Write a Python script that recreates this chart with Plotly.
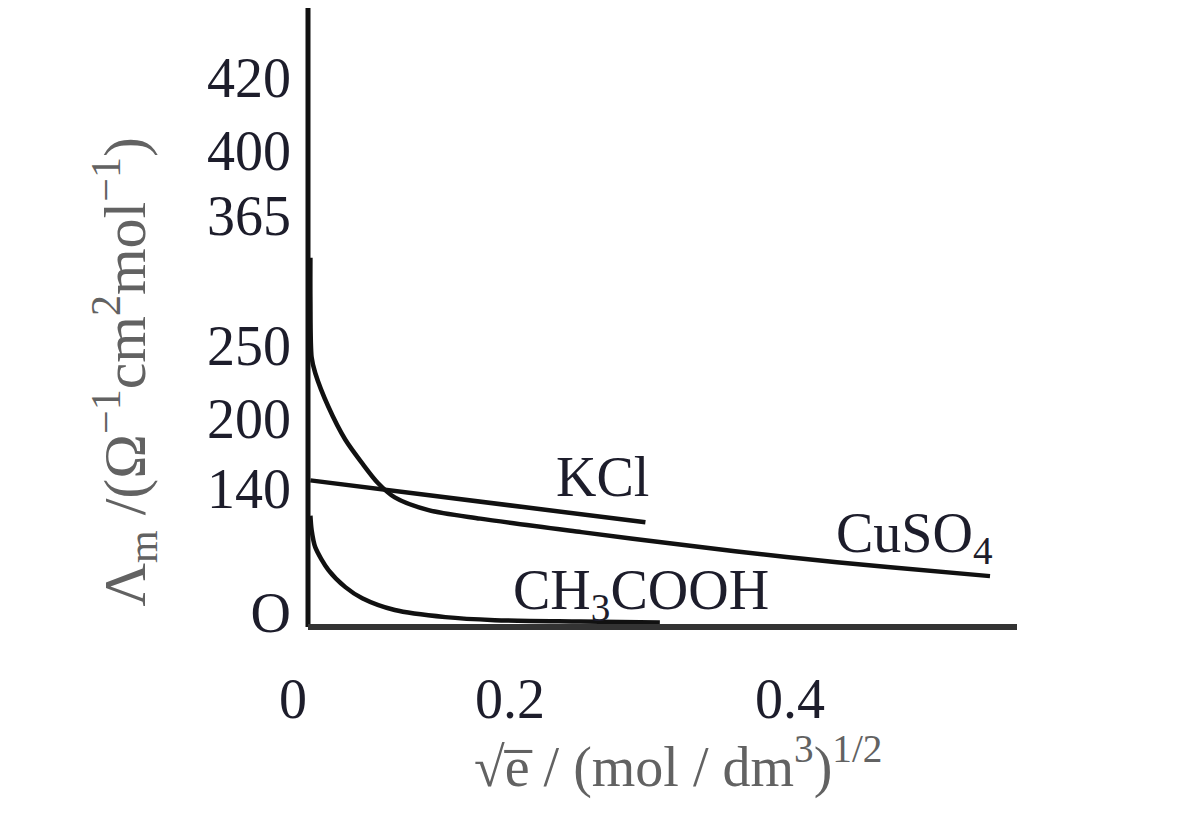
import plotly.graph_objects as go

# conductivity curves (schematic axes)
cuso4_x = [0.002, 0.002, 0.003, 0.006, 0.017, 0.031, 0.045, 0.058, 0.072, 0.100, 0.143, 0.227, 0.312, 0.397, 0.481, 0.566]
cuso4_y = [282, 250, 206, 194, 168, 143, 125, 110, 99, 89.3, 82.8, 72.5, 62.6, 53.5, 45.8, 38.9]

kcl_x = [0.002, 0.280]
kcl_y = [112, 80]

ch3cooh_x = [0.002, 0.003, 0.006, 0.017, 0.031, 0.045, 0.072, 0.114, 0.155, 0.226, 0.292]
ch3cooh_y = [85, 74, 61, 43.5, 30.5, 22, 13, 7.6, 5.3, 4.2, 3.4]

# tick labels of the book figure, and where they sit on its (non uniform) scale
y_tick_text = ["420", "400", "365", "250", "200", "140", "O"]
y_tick_at = [420, 364.3, 314.6, 215.3, 159.6, 106.1, 11.5]
x_tick_text = ["0", "0.2", "0.4"]
x_tick_at = [-0.0124, 0.1676, 0.4]

x_range = [-0.01328, 0.5884]
y_range = [-3, 472.7]

serif = "Liberation Serif"
ink = "#1d1d2b"
grey = "#626262"

fig = go.Figure()

for xs, ys in [(cuso4_x, cuso4_y), (kcl_x, kcl_y), (ch3cooh_x, ch3cooh_y)]:
    fig.add_trace(go.Scatter(x=xs, y=ys, mode="lines",
                             line=dict(color="#111111", width=4.5, shape="spline", smoothing=0.8),
                             showlegend=False, hoverinfo="skip"))

# axes drawn as plain lines from the origin
fig.add_shape(type="line", x0=0, x1=0, y0=0, y1=y_range[1], xref="x", yref="y",
              line=dict(color="#111111", width=5))
fig.add_shape(type="line", x0=0, x1=x_range[1], y0=0, y1=0, xref="x", yref="y",
              line=dict(color="#333333", width=6))

# curve names
fig.add_annotation(x=0.2041, y=114.5, text="KCl", xanchor="left", yanchor="middle", showarrow=False,
                   font=dict(family=serif, size=56, color=ink))
fig.add_annotation(x=0.4365, y=68.7, text="CuSO<sub>4</sub>", xanchor="left", yanchor="middle", showarrow=False,
                   font=dict(family=serif, size=56, color=ink))
fig.add_annotation(x=0.1685, y=25.5, text="CH<sub>3</sub>COOH", xanchor="left", yanchor="middle", showarrow=False,
                   font=dict(family=serif, size=56, color=ink))

# axis titles
fig.add_annotation(x=-0.2303, y=0.415, xref="paper", yref="paper", textangle=-90,
                   text="Λ<sub>m</sub> /(Ω<sup>−1</sup>cm<sup>2</sup>mol<sup>−1</sup>)",
                   xanchor="center", yanchor="middle", showarrow=False,
                   font=dict(family=serif, size=60, color=grey))
fig.add_annotation(x=0.532, y=-0.212, xref="paper", yref="paper",
                   text="√e\u0305 / (mol / dm<sup>3</sup>)<sup>1/2</sup>",
                   xanchor="center", yanchor="middle", showarrow=False,
                   font=dict(family=serif, size=56, color=grey))

fig.update_xaxes(range=x_range, tickvals=x_tick_at, ticktext=x_tick_text,
                 showgrid=False, zeroline=False, showline=False, ticks="",
                 ticklabelstandoff=30, tickfont=dict(family=serif, size=56, color=ink))
fig.update_yaxes(range=y_range, tickvals=y_tick_at, ticktext=y_tick_text,
                 showgrid=False, zeroline=False, showline=False, ticks="",
                 tickfont=dict(family=serif, size=56, color=ink))

fig.update_layout(width=1188, height=814, margin=dict(l=284, r=179, t=0, b=191),
                  plot_bgcolor="white", paper_bgcolor="white")

fig.write_html("out.html")
